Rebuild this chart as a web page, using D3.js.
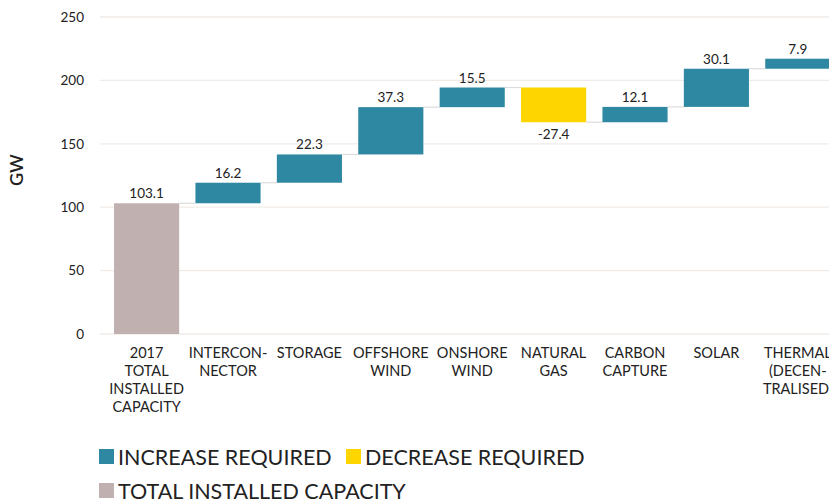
<!DOCTYPE html>
<html>
<head>
<meta charset="utf-8">
<script src="https://cdn.jsdelivr.net/npm/d3@7"></script>
<style>
  body { margin: 0; background: #fff; }
  svg { display: block; font-family: Lato, "Open Sans", sans-serif; }
</style>
</head>
<body>
<script>
// chart data
var categories = [
  ["2017", "TOTAL", "INSTALLED", "CAPACITY"],
  ["INTERCON-", "NECTOR"],
  ["STORAGE"],
  ["OFFSHORE", "WIND"],
  ["ONSHORE", "WIND"],
  ["NATURAL", "GAS"],
  ["CARBON", "CAPTURE"],
  ["SOLAR"],
  ["THERMAL", "(DECEN-", "TRALISED)"]
];
var changes = [103.1, 16.2, 22.3, 37.3, 15.5, -27.4, 12.1, 30.1, 7.9];
var yTicks = [0, 50, 100, 150, 200, 250];
var legendItems = ["INCREASE REQUIRED", "DECREASE REQUIRED", "TOTAL INSTALLED CAPACITY"];

var width = 829, height = 499;
var colors = { up: "#2e88a1", down: "#ffd500", total: "#c0b0b0" };

// build running totals
var running = 0;
var data = changes.map(function(v, i) {
  var d = { key: i, value: v, start: running, end: running + v };
  if (i === 0) { d.start = 0; d.end = v; d.type = "total"; }
  else d.type = v < 0 ? "down" : "up";
  running = d.end;
  return d;
});

var svg = d3.select("body").append("svg")
  .attr("width", width)
  .attr("height", height);

var xScale = d3.scaleBand()
  .domain(data.map(function(d) { return d.key; }))
  .range([105.9, 838.5])
  .paddingInner(0.2)
  .paddingOuter(0.1);

var yScale = d3.scaleLinear().domain([0, 250]).range([334, 17]);

// gridlines
svg.append("g")
  .selectAll("line")
  .data(yTicks)
  .enter()
  .append("line")
  .attr("x1", 100)
  .attr("x2", width)
  .attr("y1", function(d) { return yScale(d); })
  .attr("y2", function(d) { return yScale(d); })
  .attr("stroke", "#f1ebe8")
  .attr("stroke-width", 1.3);

// y axis tick labels
var yAxis = svg.append("g")
  .attr("transform", "translate(84,0)")
  .call(d3.axisLeft(yScale).tickValues(yTicks).tickSize(0).tickPadding(0));
yAxis.select(".domain").remove();
yAxis.selectAll("text")
  .attr("font-size", 13.5)
  .attr("font-family", "Lato, sans-serif")
  .attr("fill", "#222");

svg.append("text")
  .attr("transform", "translate(23,170) rotate(-90)")
  .attr("text-anchor", "middle")
  .attr("font-size", 18)
  .attr("font-weight", 600)
  .attr("fill", "#222")
  .text("GW");

// connector lines
svg.append("g")
  .selectAll("line")
  .data(data.slice(0, -1))
  .enter()
  .append("line")
  .attr("x1", function(d) { return xScale(d.key) + xScale.bandwidth(); })
  .attr("x2", function(d) { return xScale(d.key + 1); })
  .attr("y1", function(d) { return yScale(d.end); })
  .attr("y2", function(d) { return yScale(d.end); })
  .attr("stroke", "#dcdcdc")
  .attr("stroke-width", 1.2);

// bars
svg.append("g")
  .selectAll("rect")
  .data(data)
  .enter()
  .append("rect")
  .attr("x", function(d) { return xScale(d.key); })
  .attr("width", xScale.bandwidth())
  .attr("y", function(d) { return yScale(Math.max(d.start, d.end)); })
  .attr("height", function(d) { return Math.abs(yScale(d.start) - yScale(d.end)); })
  .attr("fill", function(d) { return colors[d.type]; });

// value labels
svg.append("g")
  .selectAll("text")
  .data(data)
  .enter()
  .append("text")
  .attr("x", function(d) { return xScale(d.key) + xScale.bandwidth() / 2; })
  .attr("y", function(d) {
    return d.value < 0 ? yScale(d.end) + 17 : yScale(d.end) - 5;
  })
  .attr("text-anchor", "middle")
  .attr("font-size", 13.5)
  .attr("fill", "#222")
  .text(function(d) { return d.value.toFixed(1); });

// category labels
var cat = svg.append("g")
  .selectAll("text")
  .data(data)
  .enter()
  .append("text")
  .attr("text-anchor", "middle")
  .attr("font-size", 14.5)
  .attr("fill", "#222");
cat.selectAll("tspan")
  .data(function(d) {
    return categories[d.key].map(function(t) { return { key: d.key, t: t }; });
  })
  .enter()
  .append("tspan")
  .attr("x", function(d) { return xScale(d.key) + xScale.bandwidth() / 2; })
  .attr("y", function(d, i) { return 358 + i * 18; })
  .text(function(d) { return d.t; });

// legend
var legendPos = [[99, 465], [346, 465], [99, 499]];
var legendColors = [colors.up, colors.down, colors.total];
var lg = svg.append("g")
  .selectAll("g")
  .data(legendItems)
  .enter()
  .append("g")
  .attr("transform", function(d, i) { return "translate(" + legendPos[i][0] + "," + legendPos[i][1] + ")"; });
lg.append("rect")
  .attr("x", 0)
  .attr("y", -16)
  .attr("width", 15)
  .attr("height", 15)
  .attr("fill", function(d, i) { return legendColors[i]; });
lg.append("text")
  .attr("x", 19)
  .attr("y", 0)
  .attr("font-size", 21.5)
  .attr("fill", "#222")
  .text(function(d) { return d; });
</script>
</body>
</html>
